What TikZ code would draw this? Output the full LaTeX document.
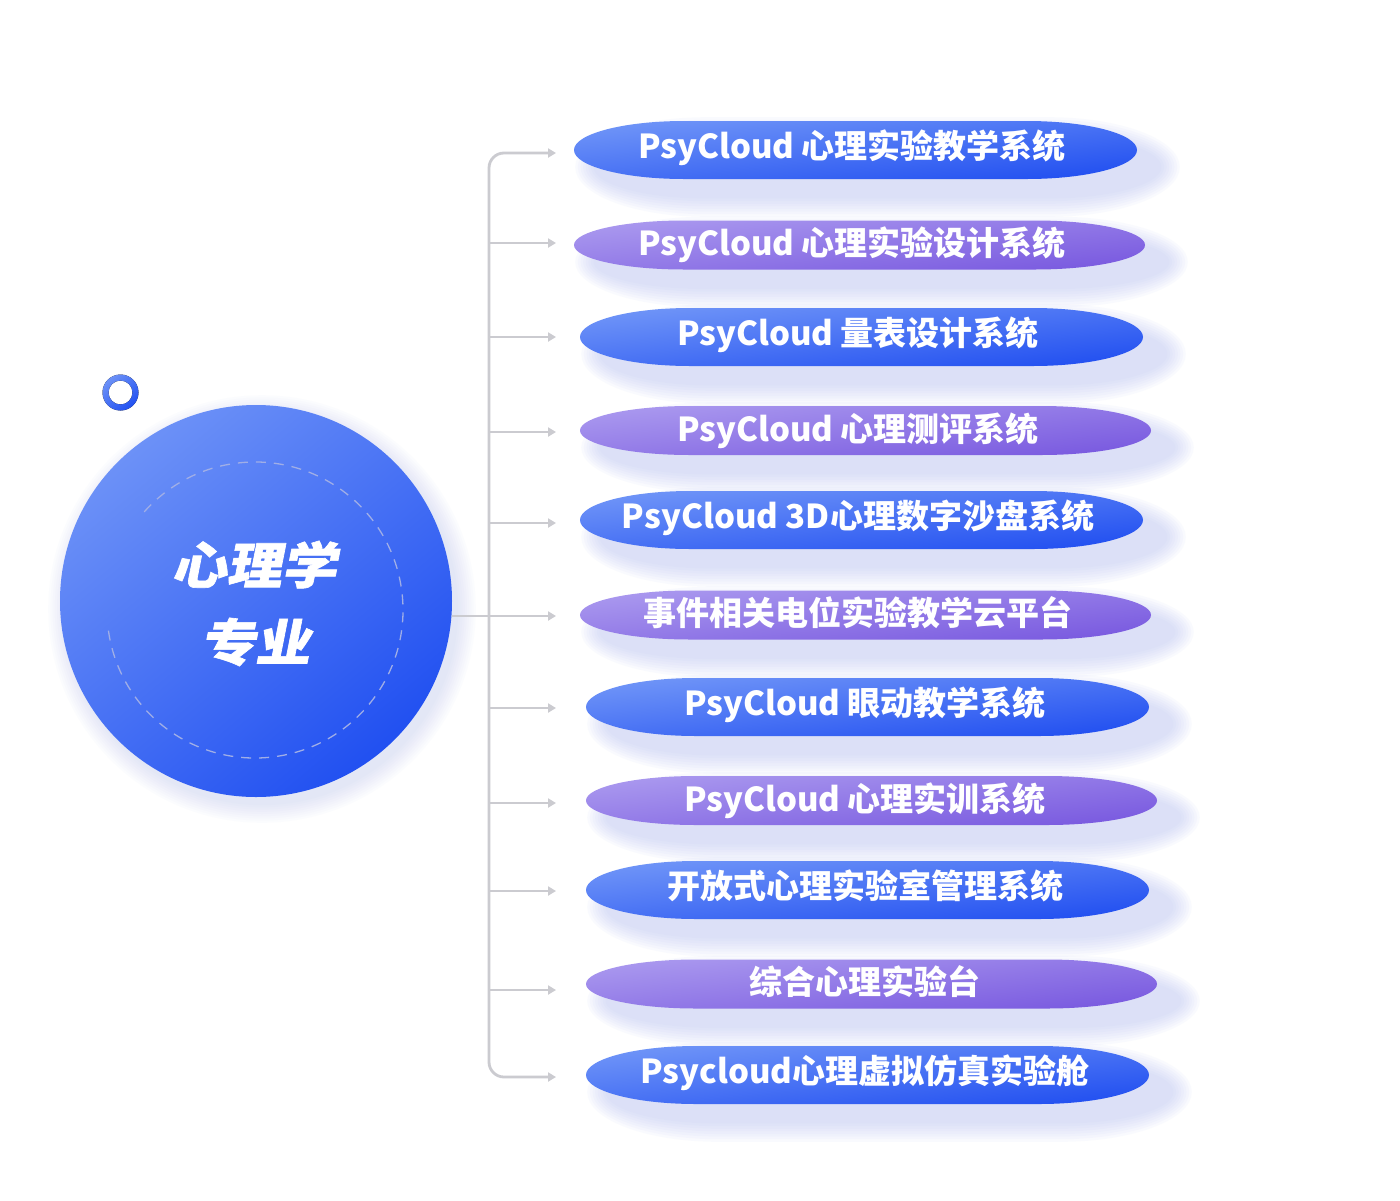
\documentclass[tikz,border=0pt]{standalone}
\usepackage{graphicx}
\usepackage{fontspec}
\newfontfamily\cjk{Noto Sans CJK SC}
\newfontfamily\cjkhead{Noto Sans CJK SC}[BoldFeatures={FakeSlant=0.18,FakeBold=1.2}]
\usetikzlibrary{arrows.meta}
\definecolor{bluelt}{HTML}{7398F8}
\definecolor{bluedk}{HTML}{1E4CF0}
\definecolor{purlt}{HTML}{AE9EF0}
\definecolor{purdk}{HTML}{7554DE}
\definecolor{huelt}{HTML}{6C91F7}
\definecolor{huedk}{HTML}{2150F1}
\definecolor{glowc}{HTML}{B7C1F5}
\definecolor{connc}{HTML}{CBCBD0}
\definecolor{dashc}{HTML}{A0AEE6}
\tikzset{
  huefill/.style={top color=huelt, bottom color=huedk, shading angle=40},
  conn/.style={draw=connc, line width=2.8pt, -{Triangle[length=8pt,width=9pt]}},
  pilltext/.style={text=white, font={\cjk\bfseries\fontsize{33}{40}\selectfont}, anchor=base, inner sep=0pt},
  headtext/.style={text=white, font={\cjkhead\bfseries\fontsize{50}{60}\selectfont}, anchor=base, inner sep=0pt},
}
% cx, cy, half width, half height, end radius
\newcommand\pillpath[5]{({(#1)-(#3)+(#5)},{(#2)-(#4)}) -- ({(#1)+(#3)-(#5)},{(#2)-(#4)}) arc[start angle=90,end angle=-90,x radius={(#5)*1pt},y radius={(#4)*1pt}] -- ({(#1)-(#3)+(#5)},{(#2)+(#4)}) arc[start angle=270,end angle=90,x radius={(#5)*1pt},y radius={(#4)*1pt}] -- cycle}
% cx, cy, half width, half height, light colour, dark colour
\newcommand\drawpill[6]{%
  \foreach \k in {1,...,8}{%
    \pgfmathsetmacro\ee{\k*2.6}%
    \fill[glowc, opacity=0.07] \pillpath{#1+22}{#2+17}{#3+\ee}{#4+\ee}{110+\ee};
  }%
  \begin{scope}
    \clip \pillpath{#1}{#2}{#3}{#4}{110};
    \shade[top color=#5, bottom color=#6, transform canvas={rotate around={6:(#1,#2)}}]
      ({(#1)-370},{(#2)-57}) rectangle ({(#1)+370},{(#2)+57});
  \end{scope}
}
\begin{document}
\begin{tikzpicture}[x=1pt,y=-1pt]
\useasboundingbox (0,0) rectangle (1400,1200);
\fill[white] (0,0) rectangle (1400,1200);

% hub glow and circle
\foreach \k in {1,...,9}{
  \fill[glowc, opacity=0.045] (262,609) circle[radius={(194+2.2*\k)*1pt}];
}
\node[circle, minimum size=392pt, inner sep=0pt, huefill] (hub) at (256,601) {};
\draw[dashc, line width=1.3pt, dash pattern=on 10pt off 8pt]
  ([shift={(188:148pt)}]255,610) arc[start angle=188, end angle=499, radius=148pt];
\node[headtext] (h1) at (254,584) {\scalebox{1.1}[1]{心理学}};
\node[headtext] (h2) at (255,661) {\scalebox{1.1}[1]{专业}};

% small ring
\fill[huefill, even odd rule] (120.5,392.5) circle[radius=18pt] (120.5,392.5) circle[radius=12pt];

% pills
\drawpill{855.5}{150}{281.5}{29}{bluelt}{bluedk}
\drawpill{859.5}{245}{285.5}{24.5}{purlt}{purdk}
\drawpill{861.5}{337}{281.5}{29}{bluelt}{bluedk}
\drawpill{865.5}{430.5}{285.5}{24.5}{purlt}{purdk}
\drawpill{861.5}{520}{281.5}{29}{bluelt}{bluedk}
\drawpill{865.5}{615}{285.5}{24.5}{purlt}{purdk}
\drawpill{867.5}{707}{281.5}{29}{bluelt}{bluedk}
\drawpill{871.5}{800.5}{285.5}{24.5}{purlt}{purdk}
\drawpill{867.5}{890}{281.5}{29}{bluelt}{bluedk}
\drawpill{871.5}{984}{285.5}{24.5}{purlt}{purdk}
\drawpill{867.5}{1075}{281.5}{29}{bluelt}{bluedk}

\node[pilltext] (p1) at (852,158) {PsyCloud 心理实验教学系统};
\node[pilltext] (p2) at (852,255.5) {PsyCloud 心理实验设计系统};
\node[pilltext] (p3) at (858,345) {PsyCloud 量表设计系统};
\node[pilltext] (p4) at (858,441) {PsyCloud 心理测评系统};
\node[pilltext] (p5) at (858,528) {PsyCloud 3D心理数字沙盘系统};
\node[pilltext] (p6) at (858,625.5) {事件相关电位实验教学云平台};
\node[pilltext] (p7) at (865,715) {PsyCloud 眼动教学系统};
\node[pilltext] (p8) at (865,811) {PsyCloud 心理实训系统};
\node[pilltext] (p9) at (865,898) {开放式心理实验室管理系统};
\node[pilltext] (p10) at (865,994.5) {综合心理实验台};
\node[pilltext] (p11) at (865,1083) {Psycloud心理虚拟仿真实验舱};

% connectors
\coordinate (bus) at (489,616);
\coordinate (t1) at (556,153);
\coordinate (t2) at (556,243);
\coordinate (t3) at (556,337);
\coordinate (t4) at (556,432);
\coordinate (t5) at (556,523);
\coordinate (t6) at (556,616);
\coordinate (t7) at (556,708);
\coordinate (t8) at (556,803);
\coordinate (t9) at (556,891);
\coordinate (t10) at (556,990);
\coordinate (t11) at (556,1077);
\draw[conn, rounded corners=15pt] (bus) |- (t1);
\draw[conn, rounded corners=15pt] (bus) |- (t11);
\foreach \i in {2,3,4,5,7,8,9,10}{
  \draw[conn] (bus |- t\i) -- (t\i);
}
\draw[conn] (hub.east |- t6) -- (t6);
\end{tikzpicture}
\end{document}
